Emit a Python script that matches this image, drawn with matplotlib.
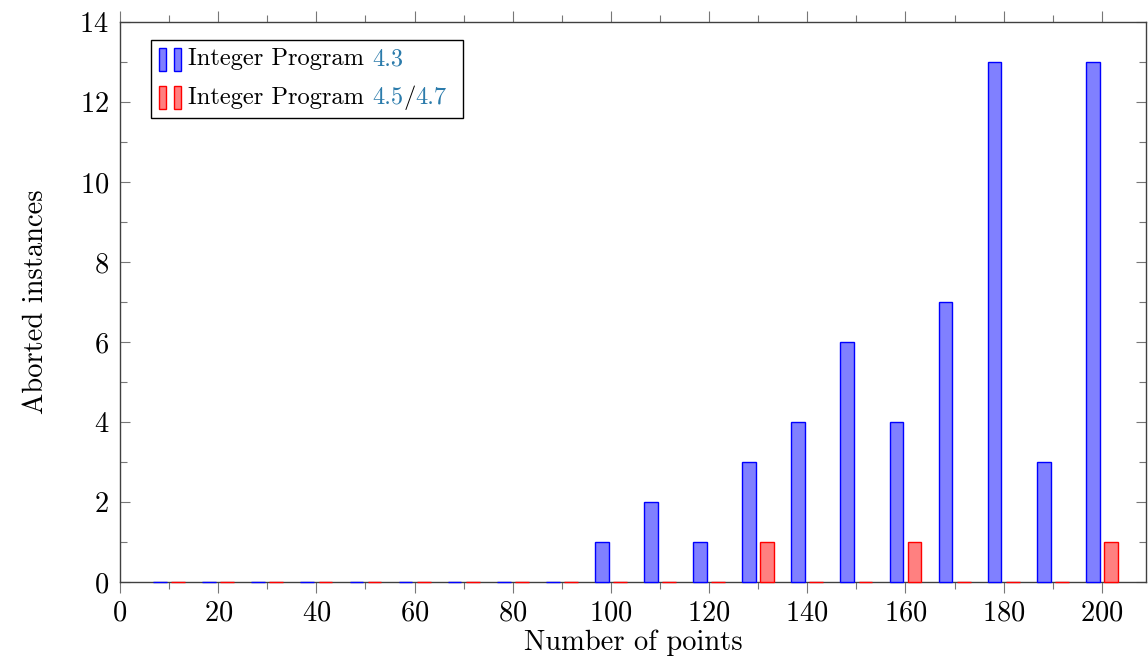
import matplotlib
matplotlib.use("Agg")
import matplotlib.pyplot as plt
from matplotlib.ticker import MultipleLocator
from matplotlib.patches import Rectangle
from matplotlib.offsetbox import (AnchoredOffsetbox, DrawingArea, HPacker,
                                  TextArea, VPacker)

plt.rcParams['font.family'] = 'serif'
plt.rcParams['font.serif'] = ['cmr10']
plt.rcParams['mathtext.fontset'] = 'cm'
plt.rcParams['axes.unicode_minus'] = False
plt.rcParams['axes.formatter.use_mathtext'] = True

# number of points per instance group
points = [10, 20, 30, 40, 50, 60, 70, 80, 90, 100,
          110, 120, 130, 140, 150, 160, 170, 180, 190, 200]
# aborted instances per formulation
aborted_ip43 = [0, 0, 0, 0, 0, 0, 0, 0, 0, 1,
                2, 1, 3, 4, 6, 4, 7, 13, 3, 13]
aborted_ip45 = [0, 0, 0, 0, 0, 0, 0, 0, 0, 0,
                0, 0, 1, 0, 0, 1, 0, 0, 0, 1]

blue_fill, blue_edge = '#8080ff', '#0000ff'
red_fill, red_edge = '#ff8080', '#ff0000'
ref_color = '#2b7bab'
LABEL_FS = 20.5
TICK_FS = 20.5
LEGEND_FS = 17.6

fig = plt.figure(figsize=(11.48, 6.61), dpi=100)
ax = fig.add_axes([120/1148, 1 - 582/661, 1026/1148, 560/661])

shift = 1.85
width = 2.8
ax.bar([p - shift for p in points], aborted_ip43, width=width,
       color=blue_fill, edgecolor=blue_edge, linewidth=1.0, zorder=3, clip_on=False)
ax.bar([p + shift for p in points], aborted_ip45, width=width,
       color=red_fill, edgecolor=red_edge, linewidth=1.0, zorder=3, clip_on=False)

ax.set_xlim(0, 209)
ax.set_ylim(0, 14)
ax.xaxis.set_major_locator(MultipleLocator(20))
ax.xaxis.set_minor_locator(MultipleLocator(10))
ax.yaxis.set_major_locator(MultipleLocator(2))
ax.yaxis.set_minor_locator(MultipleLocator(1))

for s in ax.spines.values():
    s.set_color('#404040')
    s.set_linewidth(1.0)
    s.set_zorder(2.5)

ax.tick_params(axis='x', which='both', direction='out', top=True, bottom=True,
               color='#777777', width=0.8, labelsize=TICK_FS, pad=5)
ax.tick_params(axis='x', which='major', length=8)
ax.tick_params(axis='x', which='minor', length=5)
ax.tick_params(axis='y', which='both', direction='in', left=True, right=True,
               color='#777777', width=0.8, labelsize=TICK_FS, pad=8)
ax.tick_params(axis='y', which='major', length=7)
ax.tick_params(axis='y', which='minor', length=5)

ax.set_xlabel('Number of points', fontsize=LABEL_FS, labelpad=2)
ax.set_ylabel('Aborted instances', fontsize=LABEL_FS, labelpad=22)


def bar_pair(fill, edge):
    da = DrawingArea(16, 16.5, 0, 0)
    da.add_artist(Rectangle((0, 0), 5, 16.5, facecolor=fill, edgecolor=edge, lw=1.0))
    da.add_artist(Rectangle((10.8, 0), 5, 16.5, facecolor=fill, edgecolor=edge, lw=1.0))
    return da


def label(parts):
    boxes = []
    for text, color in parts:
        boxes.append(TextArea(text, textprops=dict(color=color, size=LEGEND_FS)))
    return HPacker(children=boxes, align='baseline', pad=0, sep=0)


row1 = HPacker(children=[bar_pair(blue_fill, blue_edge),
                         label([('Integer Program ', 'black'), ('4.3', ref_color)])],
               align='center', pad=0, sep=5)
row2 = HPacker(children=[bar_pair(red_fill, red_edge),
                         label([('Integer Program ', 'black'), ('4.5', ref_color),
                                ('/', 'black'), ('4.7', ref_color)]),
                         DrawingArea(1, 1, 0, 0)],
               align='center', pad=0, sep=5)
rows = VPacker(children=[row1, row2], align='left', pad=0, sep=10.5)

legend = AnchoredOffsetbox(loc='upper left', child=rows, pad=0.32, borderpad=0,
                           frameon=True, prop=dict(size=LEGEND_FS),
                           bbox_to_anchor=(151/1148, 1 - 40/661),
                           bbox_transform=fig.transFigure)
legend.patch.set_edgecolor('black')
legend.patch.set_linewidth(1.0)
legend.patch.set_boxstyle('square', pad=0)
legend.set_zorder(5)
ax.add_artist(legend)

fig.savefig('out.png', dpi=100)
